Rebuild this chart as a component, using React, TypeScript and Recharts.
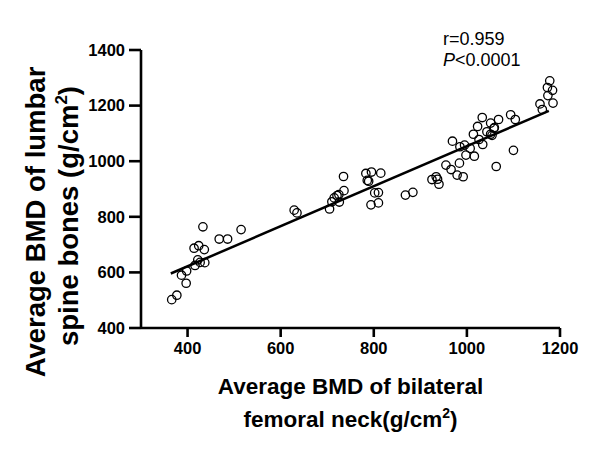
import { ReferenceLine, Scatter, ScatterChart, XAxis, YAxis } from "recharts";

// femoral neck BMD (x) vs lumbar spine BMD (y)
const femoralNeck = [
  366, 377, 387, 398, 397, 414, 424, 436, 433, 416, 422, 427, 437, 468, 486, 515,
  629, 635, 705, 710, 715, 721, 726, 725, 736, 735, 783, 795, 786, 789, 815, 802,
  810, 794, 810, 868, 884, 925, 934, 937, 940, 955, 966, 969, 979, 984, 992, 985,
  995, 998, 1007, 1016, 1014, 1023, 1026, 1033, 1034, 1043, 1051, 1051, 1058, 1068,
  1063, 1094, 1104, 1100, 1157, 1162, 1178, 1173, 1184, 1174, 1185, 1059, 1054,
];
const lumbarSpine = [
  502, 518, 590, 605, 561, 687, 696, 682, 764, 625, 645, 636, 635, 720, 720, 754,
  824, 814, 828, 854, 868, 876, 853, 880, 894, 945, 956, 961, 931, 928, 957, 886,
  887, 843, 850, 878, 888, 934, 944, 935, 917, 986, 970, 1072, 950, 993, 944, 1052,
  1058, 1022, 1046, 1018, 1097, 1125, 1078, 1157, 1060, 1106, 1137, 1097, 1118, 1150,
  981, 1167, 1150, 1039, 1206, 1186, 1289, 1265, 1255, 1236, 1209, 1121, 1093,
];

// fitted line end points
const fitX = [364, 1176];
const fitY = [596, 1181];

const xTicks = [400, 600, 800, 1000, 1200];
const yTicks = [400, 600, 800, 1000, 1200, 1400];

const points = femoralNeck.map((x, i) => ({ x, y: lumbarSpine[i] }));

const FONT = "'Liberation Sans', Arial, sans-serif";

const Ring = (props: any) => (
  <circle cx={props.cx} cy={props.cy} r={4.2} fill="none" stroke="#000" strokeWidth={1.3} />
);

export default function App() {
  return (
    <div style={{ position: "absolute", left: 0, top: 0, width: 600, height: 456, background: "#fff" }}>
      <ScatterChart
        width={600}
        height={456}
        margin={{ top: 50, right: 40, bottom: 0, left: 0 }}
        style={{ fontFamily: FONT }}
      >
        <XAxis
          type="number"
          dataKey="x"
          domain={[300, 1200]}
          ticks={xTicks}
          height={128}
          tickSize={9}
          tickMargin={5}
          axisLine={{ stroke: "#000", strokeWidth: 2.6 }}
          tickLine={{ stroke: "#000", strokeWidth: 2.6 }}
          tick={{ fill: "#000", fontSize: 16.5, fontWeight: 700, fontFamily: FONT }}
        />
        <YAxis
          type="number"
          dataKey="y"
          domain={[400, 1400]}
          ticks={yTicks}
          width={141}
          tickSize={12}
          tickMargin={4}
          axisLine={{ stroke: "#000", strokeWidth: 2.6 }}
          tickLine={{ stroke: "#000", strokeWidth: 2.6 }}
          tick={{ fill: "#000", fontSize: 16.5, fontWeight: 700, fontFamily: FONT }}
        />
        <ReferenceLine
          segment={[
            { x: fitX[0], y: fitY[0] },
            { x: fitX[1], y: fitY[1] },
          ]}
          stroke="#000"
          strokeWidth={2.5}
        />
        <Scatter data={points} shape={Ring} isAnimationActive={false} />
        <text x={443} y={45} fontSize={18} fill="#000" fontFamily={FONT}>
          r=0.959
        </text>
        <text x={443} y={66} fontSize={18} fill="#000" fontFamily={FONT}>
          <tspan fontStyle="italic">P</tspan>&lt;0.0001
        </text>
        <text
          x={350.5}
          y={394}
          textAnchor="middle"
          fontSize={22.5}
          fontWeight={700}
          fill="#000"
          fontFamily={FONT}
        >
          Average BMD of bilateral
        </text>
        <text
          x={350.5}
          y={427}
          textAnchor="middle"
          fontSize={22.5}
          fontWeight={700}
          fill="#000"
          fontFamily={FONT}
        >
          femoral neck(g/cm<tspan dy={-9} fontSize={14}>2</tspan>
          <tspan dy={9}>)</tspan>
        </text>
        <text
          transform="translate(45,222) rotate(-90)"
          textAnchor="middle"
          fontSize={27.5}
          fontWeight={700}
          fill="#000"
          fontFamily={FONT}
        >
          Average BMD of lumbar
        </text>
        <text
          transform="translate(78,216) rotate(-90)"
          textAnchor="middle"
          fontSize={27.5}
          fontWeight={700}
          fill="#000"
          fontFamily={FONT}
        >
          spine bones (g/cm<tspan dy={-11} fontSize={17}>2</tspan>
          <tspan dy={11}>)</tspan>
        </text>
      </ScatterChart>
    </div>
  );
}
